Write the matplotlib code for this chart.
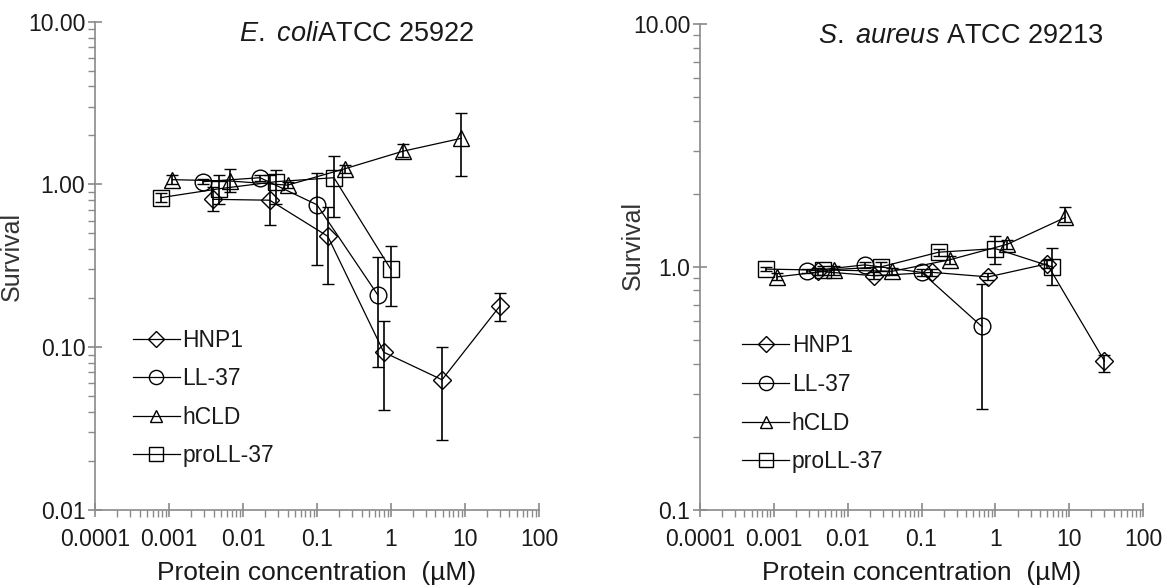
import matplotlib
matplotlib.use("Agg")
import matplotlib.pyplot as plt
import matplotlib.ticker as mticker
from matplotlib.lines import Line2D
import numpy as np

plt.rcParams['font.family'] = ['Liberation Sans', 'DejaVu Sans']
plt.rcParams['mathtext.fontset'] = 'custom'
plt.rcParams['mathtext.rm'] = 'Liberation Sans'
plt.rcParams['mathtext.it'] = 'Liberation Sans:italic'

# ---- E. coli ATCC 25922 ----
ec_hnp1_x = [0.0039, 0.023, 0.14, 0.8, 4.9, 30]
ec_hnp1_y = [0.81, 0.80, 0.48, 0.093, 0.063, 0.18]
ec_hnp1_lo = [0.69, 0.56, 0.245, 0.041, 0.027, 0.145]
ec_hnp1_hi = [0.97, 1.14, 0.73, 0.145, 0.10, 0.215]

ec_ll37_x = [0.0029, 0.017, 0.1, 0.66]
ec_ll37_y = [1.04, 1.10, 0.75, 0.21]
ec_ll37_lo = [1.00, 1.05, 0.32, 0.076]
ec_ll37_hi = [1.08, 1.15, 1.17, 0.36]

ec_hcld_x = [0.0011, 0.0066, 0.04, 0.24, 1.45, 8.9]
ec_hcld_y = [1.07, 1.05, 0.99, 1.25, 1.60, 1.92]
ec_hcld_lo = [1.00, 0.90, 0.95, 1.18, 1.47, 1.13]
ec_hcld_hi = [1.15, 1.24, 1.04, 1.32, 1.77, 2.74]

ec_pro_x = [0.00078, 0.0047, 0.028, 0.17, 1.0]
ec_pro_y = [0.83, 0.94, 1.04, 1.10, 0.30]
ec_pro_lo = [0.78, 0.76, 0.76, 0.63, 0.18]
ec_pro_hi = [0.88, 1.15, 1.22, 1.50, 0.42]

# ---- S. aureus ATCC 29213 ----
sa_hnp1_x = [0.0039, 0.023, 0.14, 0.8, 5.0, 30]
sa_hnp1_y = [0.96, 0.92, 0.95, 0.91, 1.03, 0.41]
sa_hnp1_lo = [0.93, 0.89, 0.92, 0.88, 0.99, 0.37]
sa_hnp1_hi = [0.99, 0.95, 0.98, 0.94, 1.07, 0.435]

sa_ll37_x = [0.0028, 0.017, 0.1, 0.65]
sa_ll37_y = [0.96, 1.02, 0.95, 0.57]
sa_ll37_lo = [0.94, 0.99, 0.92, 0.26]
sa_ll37_hi = [0.98, 1.05, 0.98, 0.85]

sa_hcld_x = [0.0011, 0.0066, 0.04, 0.24, 1.45, 8.9]
sa_hcld_y = [0.91, 0.97, 0.96, 1.07, 1.24, 1.60]
sa_hcld_lo = [0.88, 0.93, 0.93, 1.03, 1.19, 1.53]
sa_hcld_hi = [0.94, 1.01, 0.99, 1.11, 1.29, 1.76]

sa_pro_x = [0.00078, 0.0047, 0.028, 0.17, 1.0, 5.9]
sa_pro_y = [0.98, 0.97, 1.00, 1.15, 1.19, 1.00]
sa_pro_lo = [0.96, 0.93, 0.96, 1.11, 1.03, 0.84]
sa_pro_hi = [1.00, 1.01, 1.05, 1.19, 1.34, 1.20]

names = ['HNP1', 'LL-37', 'hCLD', 'proLL-37']
markers = ['D', 'o', '^', 's']
msizes = [9, 12, 11, 12]

x_ticklabels = ['0.0001', '0.001', '0.01', '0.1', '1', '10', '100']

grey = '#8a8a8a'
txt = '#1a1a1a'


def draw_series(ax, x, y, lo, hi, marker, ms):
    y = np.array(y)
    yerr = [y - np.array(lo), np.array(hi) - y]
    ax.errorbar(x, y, yerr=yerr, fmt='-', marker=marker, ms=ms, mfc='none',
                mec='black', mew=1.0, color='black', lw=0.9,
                ecolor='black', elinewidth=1.2, capsize=4, capthick=1.2)


def style_axes(ax, ylim, yticks, yticklabels):
    ax.set_xscale('log')
    ax.set_yscale('log')
    ax.set_xlim(1e-4, 100)
    ax.set_ylim(*ylim)
    for s in ['top', 'right']:
        ax.spines[s].set_visible(False)
    for s in ['left', 'bottom']:
        ax.spines[s].set_color(grey)
        ax.spines[s].set_linewidth(1.2)
    ax.set_xticks([10.0 ** k for k in range(-4, 3)])
    ax.set_xticklabels(x_ticklabels)
    ax.xaxis.set_minor_locator(mticker.LogLocator(base=10, subs=np.arange(2, 10), numticks=20))
    ax.xaxis.set_minor_formatter(mticker.NullFormatter())
    ax.set_yticks(yticks)
    ax.set_yticklabels(yticklabels)
    ax.yaxis.set_minor_locator(mticker.LogLocator(base=10, subs=np.arange(2, 10), numticks=20))
    ax.yaxis.set_minor_formatter(mticker.NullFormatter())
    ax.tick_params(which='major', direction='inout', length=10, width=1.2, color=grey,
                   labelsize=16.5, labelcolor=txt)
    ax.tick_params(axis='x', which='major', pad=8)
    ax.tick_params(axis='y', which='major', pad=2)
    ax.tick_params(which='minor', direction='out', length=5, width=1.0, color=grey)
    ax.set_ylabel('Survival', fontsize=18, color='#333333')
    ax.set_xlabel('Protein concentration  (µM)', fontsize=19, color=txt)


def add_legend(ax, anchor):
    handles = [Line2D([0], [0], color='black', lw=0.9, marker=m, ms=ms * 0.85, mfc='none',
                      mec='black', mew=1.0) for m, ms in zip(markers, msizes)]
    ax.legend(handles, names, loc='upper left', bbox_to_anchor=anchor, frameon=False,
              fontsize=16.5, handlelength=2.05, handletextpad=0.1, labelspacing=0.68,
              borderaxespad=0, labelcolor=txt)


fig = plt.figure(figsize=(11.64, 5.88), dpi=100)
ax1 = fig.add_axes([0.0816, 0.133, 0.3814, 0.830])
ax2 = fig.add_axes([0.6014, 0.133, 0.3806, 0.826])

ec = [(ec_hnp1_x, ec_hnp1_y, ec_hnp1_lo, ec_hnp1_hi),
      (ec_ll37_x, ec_ll37_y, ec_ll37_lo, ec_ll37_hi),
      (ec_hcld_x, ec_hcld_y, ec_hcld_lo, ec_hcld_hi),
      (ec_pro_x, ec_pro_y, ec_pro_lo, ec_pro_hi)]
sa = [(sa_hnp1_x, sa_hnp1_y, sa_hnp1_lo, sa_hnp1_hi),
      (sa_ll37_x, sa_ll37_y, sa_ll37_lo, sa_ll37_hi),
      (sa_hcld_x, sa_hcld_y, sa_hcld_lo, sa_hcld_hi),
      (sa_pro_x, sa_pro_y, sa_pro_lo, sa_pro_hi)]

for (x, y, lo, hi), m, ms in zip(ec, markers, msizes):
    draw_series(ax1, x, y, lo, hi, m, ms)
for (x, y, lo, hi), m, ms in zip(sa, markers, msizes):
    draw_series(ax2, x, y, lo, hi, m, ms)

style_axes(ax1, (0.01, 10), [0.01, 0.1, 1, 10], ['0.01', '0.10', '1.00', '10.00'])
style_axes(ax2, (0.1, 10), [0.1, 1, 10], ['0.1', '1.0', '10.00'])

ax1.yaxis.set_label_coords(-0.16, 0.52)
ax2.yaxis.set_label_coords(-0.125, 0.545)
ax1.xaxis.set_label_coords(0.5, -0.105)
ax2.xaxis.set_label_coords(0.5, -0.105)

ax1.text(0.59, 0.975, r'$\it{E.\ coli}$' + 'ATCC 25922', transform=ax1.transAxes,
         ha='center', va='center', fontsize=19.5, color=txt)
ax2.text(0.59, 0.975, r'$\it{S.\ aureus}$' + ' ATCC 29213', transform=ax2.transAxes,
         ha='center', va='center', fontsize=19.5, color=txt)

add_legend(ax1, (0.065, 0.39))
add_legend(ax2, (0.075, 0.38))

fig.savefig('out.png', dpi=100)
